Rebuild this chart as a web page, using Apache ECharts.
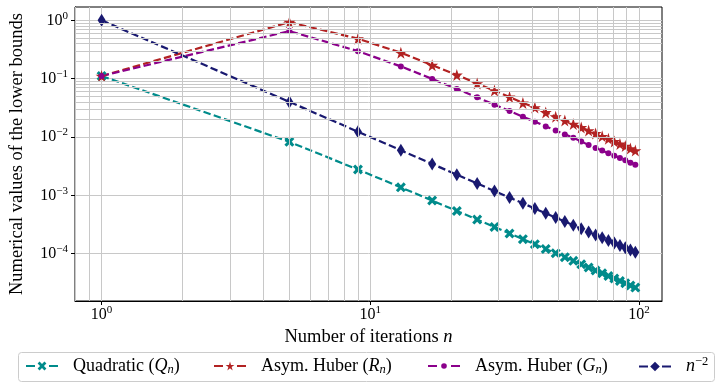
<!DOCTYPE html>
<html>
<head>
<meta charset="utf-8">
<script src="https://cdn.jsdelivr.net/npm/echarts@6/dist/echarts.min.js"></script>
<style>
  html, body { margin: 0; padding: 0; background: #fff; }
  #chart { width: 723px; height: 389px; }
</style>
</head>
<body>
<div id="chart"></div>
<script>
// iterations n = 1, 5, 9, ... 97
const iterations = [1, 5, 9, 13, 17, 21, 25, 29, 33, 37, 41, 45, 49, 53, 57, 61, 65, 69, 73, 77, 81, 85, 89, 93, 97]

const quadraticQ = [0.11111, 0.0082645, 0.0027701, 0.0013717, 0.00081633, 0.00054083, 0.00038447, 0.00028727,
  0.00022277, 0.00017778, 0.00014516, 0.00012076, 0.00010203, 8.7344e-5, 7.5614e-5, 6.6098e-5, 5.8272e-5,
  5.1757e-5, 4.6277e-5, 4.1623e-5, 3.7638e-5, 3.4199e-5, 3.121e-5, 2.8597e-5, 2.6298e-5]

const huberR = [0.111, 0.93, 0.484, 0.278, 0.170, 0.116, 0.0824, 0.0626, 0.0486, 0.0383, 0.0320, 0.0264,
  0.0223, 0.0192, 0.0167, 0.0146, 0.0129, 0.0115, 0.0103, 0.0093, 0.0084, 0.0076, 0.0070, 0.00635, 0.00586]

const huberG = [0.111, 0.654, 0.296, 0.162, 0.099, 0.0667, 0.0479, 0.0358, 0.0279, 0.0223, 0.0183, 0.0152,
  0.0129, 0.0111, 0.0097, 0.0084, 0.0073, 0.0065, 0.00586, 0.00528, 0.0048, 0.00439, 0.0040, 0.00364, 0.00336]

const invSquare = [1, 0.04, 0.012346, 0.005917, 0.0034602, 0.0022676, 0.0016, 0.0011891, 0.00091827,
  0.00073046, 0.00059488, 0.00049383, 0.00041649, 0.000356, 0.00030779, 0.00026874, 0.00023669, 0.00021004,
  0.00018765, 0.00016866, 0.00015242, 0.00013841, 0.00012625, 0.00011562, 0.00010628]

// minor grid positions (matplotlib style log grid)
const xMinor = [0.8, 0.9, 2, 3, 4, 5, 6, 7, 8, 9, 20, 30, 40, 50, 60, 70, 80, 90]
const yMinor = [2e-5, 3e-5, 4e-5, 5e-5, 6e-5, 7e-5, 8e-5, 9e-5,
  2e-4, 3e-4, 4e-4, 5e-4, 6e-4, 7e-4, 8e-4, 9e-4,
  2e-3, 3e-3, 4e-3, 5e-3, 6e-3, 7e-3, 8e-3, 9e-3,
  0.02, 0.03, 0.04, 0.05, 0.06, 0.07, 0.08, 0.09,
  0.2, 0.3, 0.4, 0.5, 0.6, 0.7, 0.8, 0.9]

const FONT = 'Liberation Serif'
const GRID_COLOR = '#c8c8c8'
const DASH = [7.5, 3.3]

const STAR = 'path://M50,0 L61,35 L98,35 L68,57 L79,91 L50,70 L21,91 L32,57 L2,35 L39,35 Z'
const XMARK = 'path://M22,0 L50,28 L78,0 L100,22 L72,50 L100,78 L78,100 L50,72 L22,100 L0,78 L28,50 L0,22 Z'

const toPairs = vals => iterations.map((n, i) => [n, vals[i]])

const powLabel = value => {
  const lg = Math.log10(value)
  const e = Math.round(lg)
  if (Math.abs(lg - e) > 1e-6) return ''
  return '{b|10}{s|' + (e < 0 ? '\u2212' + -e : e) + '}'
}

const labelRich = {
  b: { fontFamily: FONT, fontSize: 16, color: '#000' },
  s: { fontFamily: FONT, fontSize: 11, color: '#000', padding: [0, 0, 9, 0] }
}

const legendRich = {
  t: { fontFamily: FONT, fontSize: 18, color: '#000' },
  i: { fontFamily: FONT, fontSize: 18, fontStyle: 'italic', color: '#000' },
  sub: { fontFamily: FONT, fontSize: 12.5, fontStyle: 'italic', color: '#000', padding: [7, 0, 0, 0] },
  sup: { fontFamily: FONT, fontSize: 12.5, color: '#000', padding: [0, 0, 10, 0] }
}

const legendText = {
  'Quadratic (Q_n)': '{t|Quadratic (}{i|Q}{sub|n}{t|)}',
  'Asym. Huber (R_n)': '{t|Asym. Huber (}{i|R}{sub|n}{t|)}',
  'Asym. Huber (G_n)': '{t|Asym. Huber (}{i|G}{sub|n}{t|)}',
  'n^-2': '{i|n}{sup|\u22122}'
}

// one legend per entry so each sits where matplotlib put it
const legendLeft = [25, 213, 427, 638]
const legendTop = [357, 357, 357, 355]
const legendNames = ['Quadratic (Q_n)', 'Asym. Huber (R_n)', 'Asym. Huber (G_n)', 'n^-2']
const legendIconH = [11, 11, 7, 12]

const makeLegend = i => ({
  data: [legendNames[i]],
  left: legendLeft[i],
  top: legendTop[i],
  orient: 'horizontal',
  itemWidth: 32,
  itemHeight: legendIconH[i],
  padding: 0,
  selectedMode: false,
  formatter: name => legendText[name],
  lineStyle: { type: [9, 14] },
  textStyle: { rich: legendRich, padding: [0, 0, 0, 10], verticalAlign: 'middle' }
})

const makeSeries = (name, vals, color, symbol, size) => ({
  name: name,
  type: 'line',
  data: toPairs(vals),
  symbol: symbol,
  symbolSize: size,
  showSymbol: true,
  z: 3,
  lineStyle: { color: color, width: 2.2, type: DASH },
  itemStyle: { color: color },
  emphasis: { disabled: true },
  animation: false
})

const chart = echarts.init(document.getElementById('chart'))

chart.setOption({
  animation: false,
  grid: {
    left: 73,
    right: 61,
    top: 7,
    bottom: 88,
    show: true,
    borderColor: '#000',
    borderWidth: 1,
    backgroundColor: 'transparent'
  },
  xAxis: {
    type: 'log',
    logBase: 10,
    min: 0.796,
    max: 121.9,
    name: '{t|Number of iterations }{i|n}',
    nameLocation: 'middle',
    nameGap: 14,
    nameTextStyle: {
      rich: {
        t: { fontFamily: FONT, fontSize: 18.5, color: '#000' },
        i: { fontFamily: FONT, fontSize: 18.5, fontStyle: 'italic', color: '#000' }
      }
    },
    axisLine: { show: true, lineStyle: { color: '#000', width: 1 } },
    axisTick: { show: true, inside: false, length: 4, lineStyle: { color: '#000' } },
    axisLabel: { formatter: powLabel, rich: labelRich, margin: 4, showMinLabel: false, showMaxLabel: false },
    splitLine: { show: true, showMinLine: false, showMaxLine: false, lineStyle: { color: GRID_COLOR, width: 1 } }
  },
  yAxis: {
    type: 'log',
    logBase: 10,
    min: 1.55e-5,
    max: 1.69,
    name: 'Numerical values of the lower bounds',
    nameLocation: 'middle',
    nameGap: 48,
    nameTextStyle: { fontFamily: FONT, fontSize: 18.5, color: '#000' },
    axisLine: { show: true, lineStyle: { color: '#000', width: 1 } },
    axisTick: { show: true, inside: false, length: 4, lineStyle: { color: '#000' } },
    axisLabel: { formatter: powLabel, rich: labelRich, margin: 7, showMinLabel: false, showMaxLabel: false },
    splitLine: { show: true, showMinLine: false, showMaxLine: false, lineStyle: { color: GRID_COLOR, width: 1 } }
  },
  legend: [0, 1, 2, 3].map(makeLegend),
  // legend frame
  graphic: [{
    type: 'rect',
    silent: true,
    shape: { x: 18.5, y: 352.5, width: 696, height: 29, r: 3 },
    style: { fill: 'none', stroke: '#cccccc', lineWidth: 1 }
  }],
  series: [
    // minor grid lines
    {
      name: 'minor-grid',
      type: 'line',
      data: [],
      z: 1,
      silent: true,
      markLine: {
        silent: true,
        symbol: ['none', 'none'],
        label: { show: false },
        animation: false,
        lineStyle: { color: GRID_COLOR, width: 1, type: 'solid' },
        emphasis: { disabled: true },
        data: xMinor.map(v => ({ xAxis: v })).concat(yMinor.map(v => ({ yAxis: v })))
      }
    },
    makeSeries('Quadratic (Q_n)', quadraticQ, '#008b8b', XMARK, 10),
    makeSeries('Asym. Huber (R_n)', huberR, '#b22222', STAR, 12),
    makeSeries('Asym. Huber (G_n)', huberG, '#8b008b', 'circle', 6),
    makeSeries('n^-2', invSquare, '#191970', 'diamond', [8, 13])
  ]
})
</script>
</body>
</html>
